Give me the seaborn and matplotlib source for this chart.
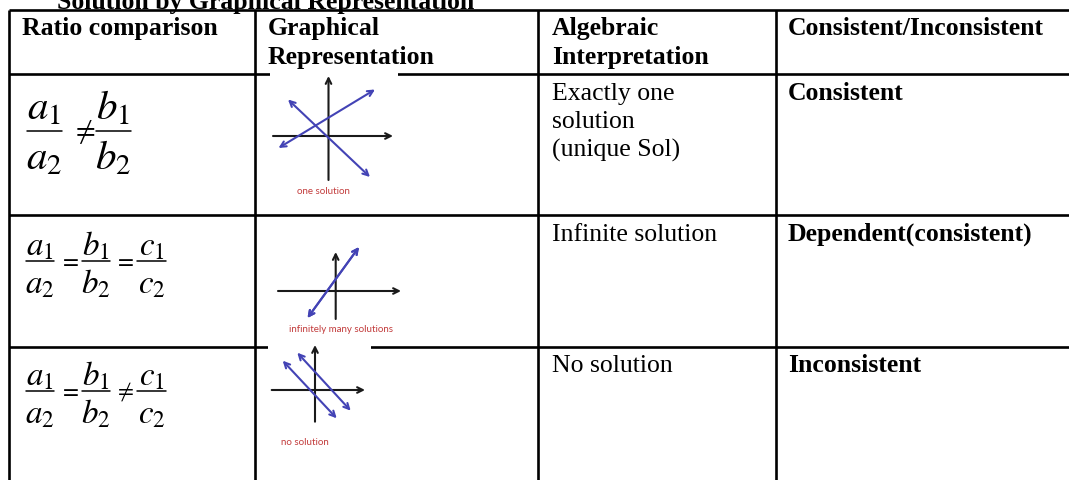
import matplotlib
matplotlib.use("Agg")
import matplotlib.pyplot as plt
import seaborn as sns
from matplotlib.patches import Rectangle

# table content
title = "Solution by Graphical Representation"
headers = [["Ratio comparison"], ["Graphical", "Representation"],
           ["Algebraic", "Interpretation"], ["Consistent/Inconsistent"]]
algebraic = [["Exactly one", "solution", "(unique Sol)"], ["Infinite solution"], ["No solution"]]
verdicts = ["Consistent", "Dependent(consistent)", "Inconsistent"]
captions = ["one solution", "infinitely many solutions", "no solution"]
numerators = [["a_1", "b_1"], ["a_1", "b_1", "c_1"], ["a_1", "b_1", "c_1"]]
denominators = [["a_2", "b_2"], ["a_2", "b_2", "c_2"], ["a_2", "b_2", "c_2"]]
operators = [["\\neq"], ["=", "="], ["=", "\\neq"]]

# small sketches (pixel coords of the picture): axes and solution lines
sketch_axes = [
    [((273, 136), (393, 136)), ((328.5, 180), (328.5, 76))],
    [((278, 291), (401, 291)), ((335.7, 319), (335.7, 252))],
    [((271.7, 390), (365, 390)), ((315, 421.7), (315, 345))],
]
sketch_lines = [
    [((278.5, 148), (375, 89.5)), ((288, 99.5), (370, 177))],
    [((307.5, 318), (359, 247)), ((307.5, 318), (359, 247))],
    [((282.7, 360.7), (336.7, 418.3)), ((297.3, 352.7), (350.7, 410.7))],
]
caption_pos = [(323, 192), (341, 329.5), (305, 442.4)]
sketch_boxes = [(270, 70, 128, 130), None, (268, 340, 103, 110)]

col_x = [8.6, 255, 538, 775.5]
row_y = [10, 74.3, 215, 346.5]
frac_x = [[44.2, 113.4], [40.2, 96.2, 151.4], [40.2, 96.2, 151.4]]
op_x = [[83], [69, 124], [69, 124]]
bar_y = [131, 260.7, 390.7]
frac_size = [29.5, 23.8, 23.8]
frac_gap = [(11, 39), (5.5, 33), (5.5, 33)]

sns.set_theme(style="white")
plt.rcParams['font.family'] = ['Liberation Serif', 'DejaVu Serif']
plt.rcParams['mathtext.fontset'] = 'stix'
plt.rcParams['text.color'] = 'black'

fig = plt.figure(figsize=(10.69, 4.8), dpi=100)
ax = fig.add_axes([0, 0, 1, 1])
ax.set_xlim(0, 1069)
ax.set_ylim(480, 0)
ax.axis("off")

lw = 1.9
for x in col_x:
    ax.plot([x, x], [row_y[0], 480], color="black", lw=lw, solid_capstyle="butt")
for y in row_y:
    ax.plot([col_x[0], 1069], [y, y], color="black", lw=lw, solid_capstyle="butt")

fs = 18.5
ax.text(57, 9, title, fontsize=fs, fontweight="bold", va="baseline", color="black")

text_dx = [13.5, 12.7, 13.7, 12.5]
for c, lines in enumerate(headers):
    for i, s in enumerate(lines):
        ax.text(col_x[c] + text_dx[c], row_y[0] + 25 + 29 * i, s, fontsize=fs,
                fontweight="bold", va="baseline", color="black")

for r in range(3):
    top = row_y[r + 1]
    for i, s in enumerate(algebraic[r]):
        ax.text(col_x[2] + text_dx[2], top + 26 + 28 * i, s, fontsize=fs,
                va="baseline", color="black")
    ax.text(col_x[3] + text_dx[3], top + 26, verdicts[r], fontsize=fs,
            fontweight="bold", va="baseline", color="black")

    # ratio fractions
    sz = frac_size[r]
    half = sz * 0.6
    for j, cx in enumerate(frac_x[r]):
        ax.text(cx, bar_y[r] - frac_gap[r][0], "$" + numerators[r][j] + "$",
                fontsize=sz, ha="center", va="baseline", color="black")
        ax.text(cx, bar_y[r] + frac_gap[r][1], "$" + denominators[r][j] + "$",
                fontsize=sz, ha="center", va="baseline", color="black")
        ax.plot([cx - half, cx + half], [bar_y[r], bar_y[r]], color="black", lw=1.1)
    for j, ox in enumerate(op_x[r]):
        ax.text(ox, bar_y[r] + 1, "$" + operators[r][j] + "$", fontsize=sz * 0.7,
                ha="center", va="center", color="black")

    # sketch of the two lines
    if sketch_boxes[r] is not None:
        bx, by, bw, bh = sketch_boxes[r]
        ax.add_patch(Rectangle((bx, by), bw, bh, facecolor="white", edgecolor="none", zorder=3))
    for (p0, p1) in sketch_axes[r]:
        ax.annotate("", xy=p1, xytext=p0, zorder=4,
                    arrowprops=dict(arrowstyle="->", color="#1a1a1a", lw=1.5,
                                    shrinkA=0, shrinkB=0, mutation_scale=10))
    for (p0, p1) in sketch_lines[r]:
        ax.annotate("", xy=p1, xytext=p0, zorder=5,
                    arrowprops=dict(arrowstyle="<->", color="#4343b5", lw=1.5,
                                    shrinkA=0, shrinkB=0, mutation_scale=10))
    ax.text(caption_pos[r][0], caption_pos[r][1], captions[r], fontsize=7,
            family=["Lato", "DejaVu Sans"], color="#c23b3b", ha="center", va="center", zorder=5)

fig.savefig("out.png", dpi=100)
